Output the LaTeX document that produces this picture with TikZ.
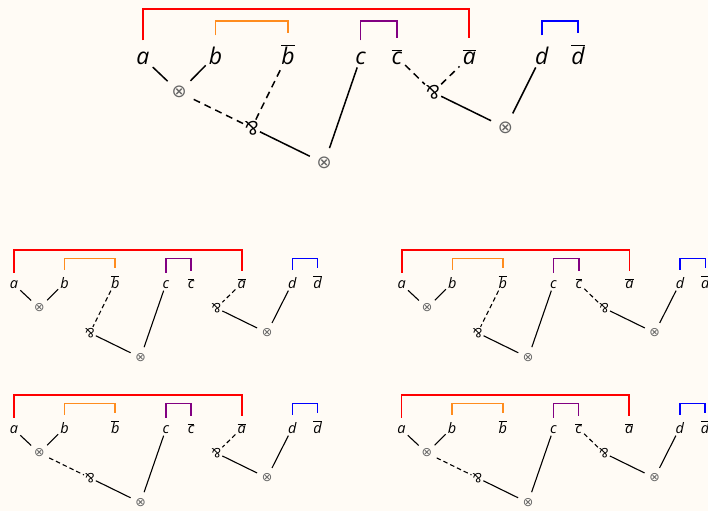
\documentclass[tikz,border=0pt]{standalone}
\usepackage{fontspec}
\setmainfont{Open Sans}
\newfontfamily\dejavu{DejaVu Sans}

\definecolor{paper}{RGB}{255,251,245}
\definecolor{netorange}{RGB}{255,140,30}
\definecolor{netpurple}{RGB}{130,0,130}

\newcommand{\dual}[1]{$\overline{\mbox{#1}}$}
\newcommand{\netnodes}{%
	\node[lbl] (a) at (0,0) {a};
	\node[lbl] (b) at (1,0) {b};
	\node[lbl] (bbar) at (2,0) {\dual{b}};
	\node[lbl] (c) at (3,0) {c};
	\node[lbl] (cbar) at (3.5,0) {\dual{c}};
	\node[lbl] (abar) at (4.5,0) {\dual{a}};
	\node[lbl] (d) at (5.5,0) {d};
	\node[lbl] (dbar) at (6,0) {\dual{d}};
	\draw[bracket,draw=red] ([shift={(0,0.11)}]a.north) |- (2,0.76) -| ([shift={(0,0.11)}]abar.north);
	\draw[bracket,draw=netorange] ([shift={(0,0.11)}]b.north) |- (1.5,0.59) -| ([shift={(0,0.11)}]bbar.north);
	\draw[bracket,draw=netpurple] ([shift={(0,0.11)}]c.north) |- (3.25,0.59) -| ([shift={(0,0.11)}]cbar.north);
	\draw[bracket,draw=blue] ([shift={(0,0.11)}]d.north) |- (5.75,0.59) -| ([shift={(0,0.11)}]dbar.north);
	\node[tns] (t1) at (0.5,-0.39) {⊗};
	\node[prr] (p1) at (1.5,-0.88) {\&};
	\node[tns] (t2) at (2.5,-1.37) {⊗};
	\node[prr] (p2) at (4,-0.39) {\&};
	\node[tns] (t3) at (5,-0.88) {⊗};
}

\begin{document}
\begin{tikzpicture}[
	lbl/.style={anchor=base,font=\fontsize{23}{23}\selectfont\itshape,inner sep=3pt},
	tns/.style={circle,font=\dejavu\fontsize{18}{18}\selectfont,text=black!60,inner sep=4.5pt},
	prr/.style={rotate=180,font=\fontsize{19}{19}\selectfont,inner sep=1pt},
	bracket/.style={line width=1.8pt},
	link/.style={line width=1.5pt,draw=black},
	cut/.style={link,dash pattern=on 7pt off 5pt},
	small/.style={x=50.6pt,y=50.6pt,
		lbl/.append style={font=\fontsize{14.5}{14.5}\selectfont\itshape,inner sep=2pt},
		tns/.append style={font=\dejavu\fontsize{12.5}{12.5}\selectfont,inner sep=3pt},
		prr/.append style={font=\fontsize{13}{13}\selectfont},
		bracket/.append style={line width=1.6pt},
		link/.append style={line width=1.1pt},
		cut/.append style={dash pattern=on 4.5pt off 3pt}}
]

	\fill[paper] (0,0) rectangle (708pt,-511pt);
	\useasboundingbox (0,0) rectangle (708pt,-511pt);

	\begin{scope}[shift={(143pt,-64pt)},x=72.5pt,y=72.5pt,name prefix=big-]
		\netnodes
		\draw[link] (a) -- (t1) -- (b);
		\draw[cut] (t1) -- (p1) -- (bbar);
		\draw[link] (p1) -- (t2) -- (c);
		\draw[cut] (cbar) -- (p2) -- (abar);
		\draw[link] (p2) -- (t3) -- (d);
	\end{scope}

	\begin{scope}[shift={(14pt,-288.3pt)},small,name prefix=tl-]
		\netnodes
		\draw[link] (a) -- (t1) -- (b);
		\draw[cut] (bbar) -- (p1);
		\draw[link] (p1) -- (t2) -- (c);
		\draw[cut] (abar) -- (p2);
		\draw[link] (p2) -- (t3) -- (d);
	\end{scope}

	\begin{scope}[shift={(401.7pt,-288.3pt)},small,name prefix=tr-]
		\netnodes
		\draw[link] (a) -- (t1) -- (b);
		\draw[cut] (bbar) -- (p1);
		\draw[link] (p1) -- (t2) -- (c);
		\draw[cut] (cbar) -- (p2);
		\draw[link] (p2) -- (t3) -- (d);
	\end{scope}

	\begin{scope}[shift={(14pt,-433.3pt)},small,name prefix=bl-]
		\netnodes
		\draw[link] (a) -- (t1) -- (b);
		\draw[cut] (t1) -- (p1);
		\draw[link] (p1) -- (t2) -- (c);
		\draw[cut] (abar) -- (p2);
		\draw[link] (p2) -- (t3) -- (d);
	\end{scope}

	\begin{scope}[shift={(401.5pt,-433.3pt)},small,name prefix=br-]
		\netnodes
		\draw[link] (a) -- (t1) -- (b);
		\draw[cut] (t1) -- (p1);
		\draw[link] (p1) -- (t2) -- (c);
		\draw[cut] (cbar) -- (p2);
		\draw[link] (p2) -- (t3) -- (d);
	\end{scope}

\end{tikzpicture}
\end{document}
